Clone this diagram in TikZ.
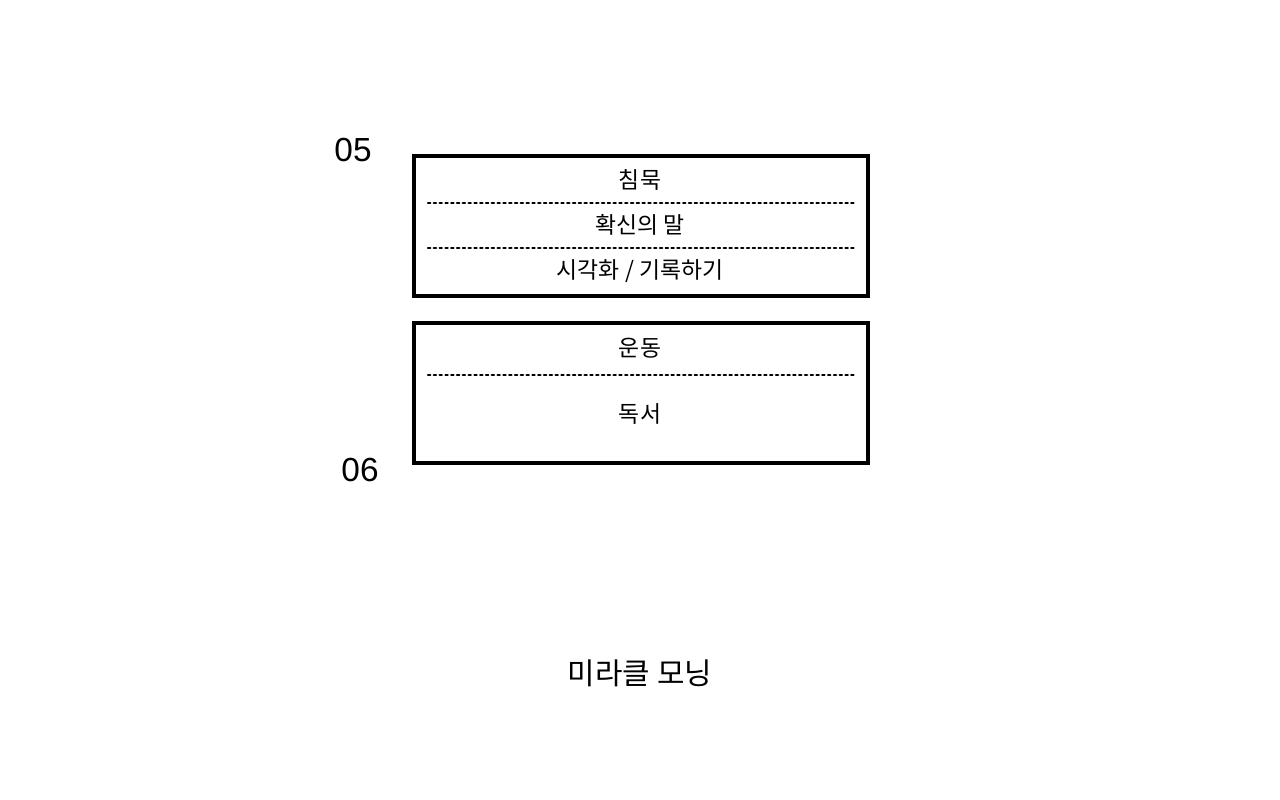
\documentclass[tikz,border=0pt]{standalone}
\usepackage{fontspec}
\newfontfamily\cjk{Noto Sans CJK KR}
\setmainfont{Liberation Sans}
\begin{document}
\begin{tikzpicture}[x=0.02cm,y=-0.02cm,
  box/.style={draw,line width=2.4pt},
  sep/.style={line width=1.3pt,dotted,line cap=round},
  lbl/.style={font=\cjk\fontsize{13}{15}\selectfont},
  num/.style={font=\fontsize{19}{22}\selectfont}]
\useasboundingbox (0,0) rectangle (1280,800);
\draw[box] (414,156) rectangle (868,296);
\draw[box] (414,323) rectangle (868,463);
\coordinate (a1) at (428,203); \coordinate (b1) at (856,203);
\coordinate (a2) at (428,248); \coordinate (b2) at (856,248);
\coordinate (a3) at (428,375); \coordinate (b3) at (856,375);
\draw[sep] (a1) -- (b1);
\draw[sep] (a2) -- (b2);
\draw[sep] (a3) -- (b3);
\node[lbl] (t1) at (640,180) {침묵};
\node[lbl] (t2) at (640,225) {확신의 말};
\node[lbl] (t3) at (640,271) {시각화 / 기록하기};
\node[lbl] (t4) at (640,348) {운동};
\node[lbl] (t5) at (640,414) {독서};
\node[num] (n5) at (353,150) {05};
\node[num] (n6) at (360,470) {06};
\node[font=\cjk\fontsize{17}{20}\selectfont] (title) at (640,673) {미라클 모닝};
\end{tikzpicture}
\end{document}
